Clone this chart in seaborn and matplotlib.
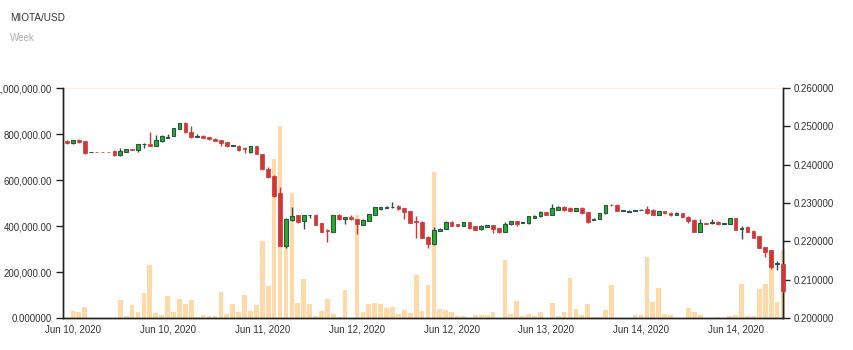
import numpy as np
import pandas as pd
import seaborn as sns
import matplotlib
matplotlib.use("Agg")
import matplotlib.pyplot as plt

# ---------------- data ----------------
title = "MIOTA/USD"
subtitle = "Week"

open_ = [0.2462, 0.2456, 0.2465, 0.2462, 0.2433, 0.2434, 0.2434, 0.2433, 0.2436, 0.2424,
         0.2433, 0.2441, 0.2438, 0.2454, 0.2455, 0.2450, 0.2461, 0.2470, 0.2475, 0.2493,
         0.2508, 0.2486, 0.2473, 0.2476, 0.2471, 0.2468, 0.2464, 0.2458, 0.2449, 0.2450,
         0.2443, 0.2434, 0.2448, 0.2428, 0.2390, 0.2370, 0.2325, 0.2189, 0.2255, 0.2268,
         0.2254, 0.2268, 0.2270, 0.2247, 0.2230, 0.2225, 0.2270, 0.2258, 0.2264, 0.2257,
         0.2243, 0.2254, 0.2269, 0.2284, 0.2287, 0.2289, 0.2293, 0.2287, 0.2279, 0.2253,
         0.2251, 0.2212, 0.2192, 0.2228, 0.2232, 0.2251, 0.2245, 0.2241, 0.2250, 0.2239,
         0.2231, 0.2238, 0.2242, 0.2235, 0.2225, 0.2244, 0.2253, 0.2248, 0.2247, 0.2262,
         0.2265, 0.2276, 0.2270, 0.2283, 0.2290, 0.2286, 0.2279, 0.2288, 0.2276, 0.2256,
         0.2258, 0.2273, 0.2296, 0.2296, 0.2280, 0.2277, 0.2279, 0.2282, 0.2285, 0.2283,
         0.2270, 0.2279, 0.2275, 0.2269, 0.2273, 0.2264, 0.2256, 0.2225, 0.2248, 0.2247,
         0.2251, 0.2246, 0.2245, 0.2260, 0.2231, 0.2238, 0.2228, 0.2213, 0.2184, 0.2177,
         0.2141, 0.2141]
high = [0.2464, 0.2465, 0.2467, 0.2463, 0.2434, 0.2434, 0.2434, 0.2434, 0.2437, 0.2443,
        0.2442, 0.2442, 0.2454, 0.2456, 0.2484, 0.2477, 0.2477, 0.2479, 0.2496, 0.2510,
        0.2511, 0.2501, 0.2479, 0.2477, 0.2472, 0.2469, 0.2465, 0.2459, 0.2451, 0.2451,
        0.2447, 0.2449, 0.2449, 0.2429, 0.2393, 0.2372, 0.2341, 0.2262, 0.2290, 0.2269,
        0.2270, 0.2270, 0.2271, 0.2248, 0.2231, 0.2270, 0.2271, 0.2264, 0.2270, 0.2258,
        0.2257, 0.2272, 0.2290, 0.2290, 0.2291, 0.2302, 0.2294, 0.2288, 0.2280, 0.2267,
        0.2252, 0.2213, 0.2238, 0.2234, 0.2253, 0.2252, 0.2246, 0.2251, 0.2251, 0.2240,
        0.2242, 0.2243, 0.2243, 0.2236, 0.2251, 0.2254, 0.2254, 0.2251, 0.2266, 0.2268,
        0.2278, 0.2277, 0.2297, 0.2291, 0.2291, 0.2290, 0.2288, 0.2290, 0.2277, 0.2260,
        0.2274, 0.2296, 0.2298, 0.2297, 0.2281, 0.2281, 0.2283, 0.2284, 0.2293, 0.2284,
        0.2280, 0.2280, 0.2276, 0.2276, 0.2274, 0.2265, 0.2257, 0.2257, 0.2249, 0.2257,
        0.2252, 0.2248, 0.2261, 0.2261, 0.2241, 0.2239, 0.2229, 0.2214, 0.2185, 0.2178,
        0.2149, 0.2142]
low = [0.2454, 0.2455, 0.2457, 0.2428, 0.2432, 0.2433, 0.2433, 0.2432, 0.2423, 0.2423,
       0.2432, 0.2437, 0.2434, 0.2443, 0.2449, 0.2449, 0.2460, 0.2469, 0.2474, 0.2492,
       0.2483, 0.2470, 0.2471, 0.2469, 0.2465, 0.2462, 0.2449, 0.2447, 0.2448, 0.2436,
       0.2430, 0.2430, 0.2427, 0.2387, 0.2365, 0.2316, 0.2188, 0.2183, 0.2254, 0.2248,
       0.2232, 0.2262, 0.2242, 0.2224, 0.2197, 0.2224, 0.2256, 0.2245, 0.2256, 0.2219,
       0.2242, 0.2253, 0.2268, 0.2283, 0.2286, 0.2288, 0.2283, 0.2257, 0.2248, 0.2210,
       0.2209, 0.2182, 0.2191, 0.2227, 0.2231, 0.2240, 0.2240, 0.2240, 0.2233, 0.2229,
       0.2230, 0.2237, 0.2221, 0.2223, 0.2224, 0.2243, 0.2241, 0.2247, 0.2246, 0.2261,
       0.2264, 0.2268, 0.2269, 0.2282, 0.2278, 0.2278, 0.2278, 0.2272, 0.2249, 0.2255,
       0.2257, 0.2272, 0.2291, 0.2279, 0.2279, 0.2276, 0.2278, 0.2281, 0.2272, 0.2268,
       0.2269, 0.2272, 0.2267, 0.2268, 0.2262, 0.2247, 0.2224, 0.2224, 0.2245, 0.2246,
       0.2243, 0.2245, 0.2244, 0.2229, 0.2207, 0.2224, 0.2209, 0.2182, 0.2160, 0.2128,
       0.2125, 0.2067]
close = [0.2456, 0.2464, 0.2458, 0.2431, 0.2434, 0.2433, 0.2433, 0.2432, 0.2424, 0.2436,
         0.2441, 0.2438, 0.2453, 0.2455, 0.2450, 0.2464, 0.2476, 0.2471, 0.2495, 0.2508,
         0.2484, 0.2471, 0.2475, 0.2470, 0.2466, 0.2463, 0.2456, 0.2448, 0.2451, 0.2437,
         0.2440, 0.2448, 0.2428, 0.2388, 0.2367, 0.2318, 0.2189, 0.2257, 0.2267, 0.2251,
         0.2269, 0.2270, 0.2243, 0.2225, 0.2228, 0.2269, 0.2257, 0.2263, 0.2257, 0.2244,
         0.2256, 0.2271, 0.2289, 0.2289, 0.2290, 0.2290, 0.2284, 0.2277, 0.2249, 0.2251,
         0.2210, 0.2193, 0.2230, 0.2233, 0.2250, 0.2241, 0.2241, 0.2250, 0.2234, 0.2230,
         0.2241, 0.2242, 0.2232, 0.2224, 0.2245, 0.2253, 0.2245, 0.2250, 0.2265, 0.2267,
         0.2277, 0.2270, 0.2288, 0.2290, 0.2282, 0.2279, 0.2287, 0.2273, 0.2251, 0.2259,
         0.2273, 0.2295, 0.2294, 0.2280, 0.2280, 0.2280, 0.2282, 0.2283, 0.2273, 0.2269,
         0.2279, 0.2273, 0.2268, 0.2275, 0.2263, 0.2254, 0.2225, 0.2247, 0.2246, 0.2251,
         0.2244, 0.2247, 0.2260, 0.2230, 0.2236, 0.2225, 0.2210, 0.2183, 0.2173, 0.2132,
         0.2143, 0.2071]
volume = [0, 30000, 27000, 46000, 0, 0, 0, 0, 0, 79000,
          8000, 56000, 27000, 110000, 232000, 22000, 15000, 96000, 28000, 84000,
          63000, 80000, 3000, 13000, 7000, 10000, 115000, 19000, 62000, 24000,
          98000, 30000, 57000, 336000, 140000, 690000, 835000, 380000, 542000, 66000,
          170000, 60000, 8000, 29000, 84000, 18000, 6000, 123000, 2000, 449000,
          28000, 62000, 66000, 63000, 42000, 48000, 16000, 33000, 20000, 188000,
          32000, 144000, 635000, 37000, 33000, 24000, 7000, 10000, 2000, 13000,
          11000, 11000, 24000, 0, 252000, 16000, 72000, 10000, 18000, 10000,
          24000, 0, 66000, 8000, 24000, 174000, 37000, 11000, 62000, 3000,
          3000, 35000, 142000, 1000, 0, 0, 15000, 15000, 265000, 69000,
          130000, 16000, 11000, 2000, 2000, 44000, 28000, 14000, 0, 2000,
          6000, 2000, 7000, 15000, 150000, 7000, 7000, 128000, 146000, 297000,
          68000, 295000]

x_tick_labels = ["Jun 10, 2020", "Jun 10, 2020", "Jun 11, 2020", "Jun 12, 2020",
                 "Jun 12, 2020", "Jun 13, 2020", "Jun 14, 2020", "Jun 14, 2020"]
vol_ticks = [0, 200000, 400000, 600000, 800000, 1000000]
vol_tick_labels = ["0.000000", "200,000.00", "400,000.00", "600,000.00",
                   "800,000.00", "1,000,000.00"]
price_ticks = [0.20, 0.21, 0.22, 0.23, 0.24, 0.25, 0.26]

# ---------------- styling ----------------
sns.set_style("white")
plt.rcParams["font.family"] = ["Liberation Sans", "DejaVu Sans"]

UP_FILL = "#1fb51f"
UP_EDGE = "#2f4f4f"
DOWN = "#d13535"
VOL = "#ffd9a8"
TXT = "#333333"
AXC = "#222222"
FS = 7.0

n = len(close)
idx = np.arange(n)
df = pd.DataFrame({"idx": idx, "volume": volume})

fig = plt.figure(figsize=(8.54, 3.50), dpi=100)
ax = fig.add_axes([63 / 854, 1 - 318 / 350, 720 / 854, 230 / 350])

sns.barplot(data=df, x="idx", y="volume", native_scale=True, color=VOL,
            saturation=1, width=0.8, ax=ax, zorder=1)
for p in ax.patches:
    p.set_clip_on(False)
    p.set_edgecolor("none")

ax.set_xlim(-0.68, n - 1)
ax.set_ylim(0, 1000000)
ax.axhline(1000000, color="#fff1e3", lw=1.0, zorder=0, clip_on=False)
ax.set_xlabel("")
ax.set_ylabel("")
ax.set_yticks(vol_ticks)
ax.set_yticklabels(vol_tick_labels)

# x ticks: marks on boundaries, labels in between
tick_pos = [9 + 16 * k for k in range(8)]
label_pos = [1 + 16 * k for k in range(8)]
ax.set_xticks(tick_pos)
ax.set_xticklabels([""] * len(tick_pos))
ax.set_xticks(label_pos, minor=True)
ax.set_xticklabels(x_tick_labels, minor=True)
ax.tick_params(axis="x", which="minor", length=0, pad=5, labelsize=FS, labelcolor=TXT)
ax.tick_params(axis="x", which="major", length=5, width=1, color=AXC, direction="out")
ax.tick_params(axis="y", length=5, width=1, color=AXC, direction="out",
               labelsize=FS, labelcolor=TXT, pad=3)

ax.spines["top"].set_visible(False)
for side in ["left", "bottom", "right"]:
    ax.spines[side].set_color(AXC)
    ax.spines[side].set_linewidth(1)

# price axis with candles
ax2 = ax.twinx()
ax2.set_ylim(0.20, 0.26)
ax2.set_xlim(-0.68, n - 1)
o = np.array(open_)
c = np.array(close)
h = np.array(high)
l = np.array(low)
up = c >= o
body_bottom = np.minimum(o, c)
body_h = np.maximum(np.abs(c - o), 0.00006)

ax2.vlines(idx[~up], l[~up], h[~up], color=DOWN, lw=1.0, zorder=3, clip_on=False)
ax2.vlines(idx[up], l[up], h[up], color=UP_EDGE, lw=1.0, zorder=3, clip_on=False)
bars_dn = ax2.bar(idx[~up], body_h[~up], bottom=body_bottom[~up], width=0.62,
                  color=DOWN, edgecolor=DOWN, linewidth=0.5, zorder=4)
bars_up = ax2.bar(idx[up], body_h[up], bottom=body_bottom[up], width=0.62,
                  color=UP_FILL, edgecolor=UP_EDGE, linewidth=0.8, zorder=4)
for p in list(bars_dn) + list(bars_up):
    p.set_clip_on(False)

ax2.set_yticks(price_ticks)
ax2.set_yticklabels([f"{v:.6f}" for v in price_ticks])
ax2.tick_params(axis="y", length=5, width=1, color=AXC, direction="out",
                labelsize=FS, labelcolor=TXT, pad=3)
ax2.spines["top"].set_visible(False)
for side in ["left", "bottom", "right"]:
    ax2.spines[side].set_color(AXC)
    ax2.spines[side].set_linewidth(1)
ax2.grid(False)
ax.grid(False)

fig.text(10 / 854, 1 - 18 / 350, title, fontsize=7.2, color=TXT, va="center", ha="left")
fig.text(10 / 854, 1 - 38 / 350, subtitle, fontsize=7.0, color="#b0b0b0", va="center", ha="left")

fig.savefig("out.png", dpi=100)
